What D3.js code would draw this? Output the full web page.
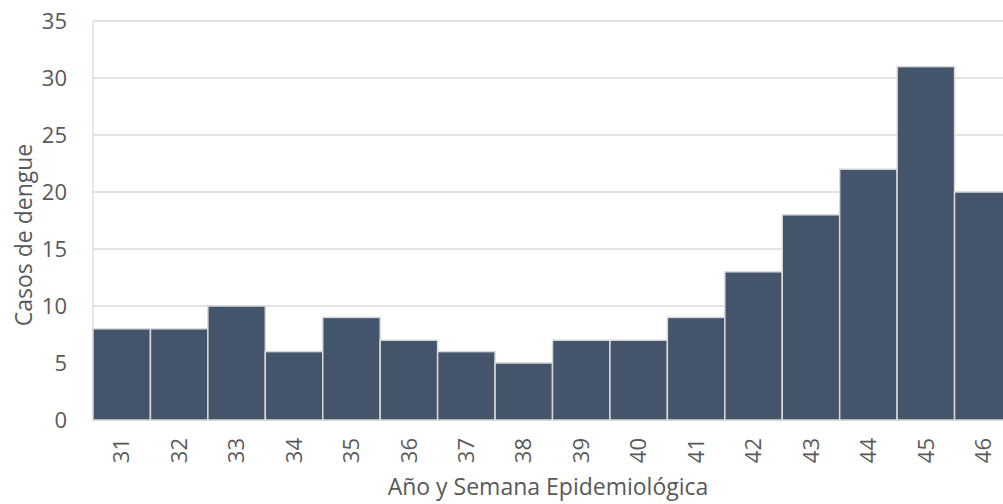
<!DOCTYPE html>
<html>
<head>
<meta charset="utf-8">
<script src="https://cdn.jsdelivr.net/npm/d3@7"></script>
<style>
  html, body { margin: 0; padding: 0; background: #fff; overflow: hidden; }
  svg { display: block; }
  text { font-family: "Open Sans", "Noto Sans", sans-serif; fill: #595959; }
</style>
</head>
<body>
<svg id="chart" width="1003" height="504"></svg>
<script>
// Epidemiological weeks and dengue case counts
const weeks = ["31","32","33","34","35","36","37","38","39","40","41","42","43","44","45","46"];
const cases = [8, 8, 10, 6, 9, 7, 6, 5, 7, 7, 9, 13, 18, 22, 31, 20];
const yTicks = [0, 5, 10, 15, 20, 25, 30, 35];

const svg = d3.select("#chart");
const margin = { left: 93, top: 21, right: -9, bottom: 84 };
const W = 1003, H = 504;
const x0 = margin.left, x1 = W - margin.right;
const y0 = H - margin.bottom, y1 = margin.top;
const FONT = '"Open Sans", "Noto Sans", sans-serif';

const x = d3.scaleBand().domain(weeks).range([x0, x1]).padding(0);
const y = d3.scaleLinear().domain([0, 35]).range([y0, y1]);

// horizontal gridlines
svg.append("g").selectAll("line").data(yTicks).join("line")
  .attr("x1", x0).attr("x2", x1)
  .attr("y1", d => y(d)).attr("y2", d => y(d))
  .attr("stroke", "#d9d9d9").attr("stroke-width", 1.3);

// left axis line
svg.append("line")
  .attr("x1", x0).attr("x2", x0).attr("y1", y1).attr("y2", y0)
  .attr("stroke", "#d9d9d9").attr("stroke-width", 1.3);

// bars
svg.append("g").selectAll("rect").data(weeks).join("rect")
  .attr("x", d => x(d))
  .attr("y", (d, i) => y(cases[i]))
  .attr("width", x.bandwidth())
  .attr("height", (d, i) => y(0) - y(cases[i]))
  .attr("fill", "#44546a")
  .attr("stroke", "#d9d9d9")
  .attr("stroke-width", 1.5);

// y axis tick labels
const yAxis = d3.axisLeft(y).tickValues(yTicks).tickSize(0).tickPadding(26);
const gy = svg.append("g").attr("transform", `translate(${x0},0)`).call(yAxis);
gy.select(".domain").remove();
gy.selectAll("text").style("font-size", "22px").attr("fill", "#595959")
  .style("font-family", FONT);

// x axis tick labels, rotated
const xAxis = d3.axisBottom(x).tickSize(0);
const gx = svg.append("g").attr("transform", `translate(0,${y0})`).call(xAxis);
gx.select(".domain").remove();
gx.selectAll("text")
  .style("font-size", "22px").attr("fill", "#595959")
  .style("font-family", FONT)
  .attr("transform", "rotate(-90)")
  .attr("text-anchor", "end")
  .attr("x", -18).attr("y", 0).attr("dy", "0.35em");

// axis titles
svg.append("text")
  .attr("x", 548).attr("y", 495)
  .attr("text-anchor", "middle")
  .style("font-size", "23px")
  .text("Año y Semana Epidemiológica");

svg.append("text")
  .attr("transform", "translate(32,235) rotate(-90)")
  .attr("text-anchor", "middle")
  .style("font-size", "23px")
  .text("Casos de dengue");
</script>
</body>
</html>
